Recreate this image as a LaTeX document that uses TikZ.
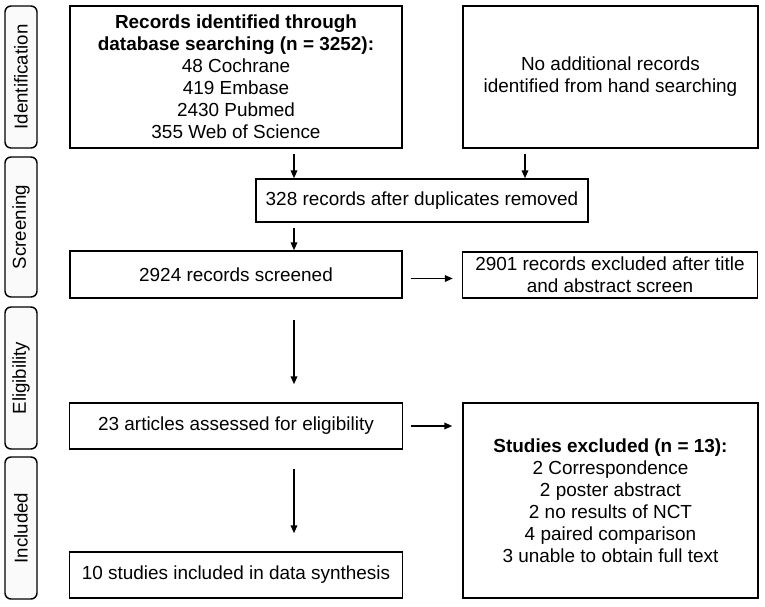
\documentclass[tikz,border=0pt]{standalone}
\usepackage{fontspec}
\setmainfont{Liberation Sans}
\usepackage{xcolor}
\usepackage{tikz}
\usetikzlibrary{arrows.meta}
\usetikzlibrary{positioning}

\begin{document}
\begin{tikzpicture}[x=0.75pt, y=-0.75pt,
    box/.style={draw, line width=1.1pt, fill=white, inner sep=0pt, align=center,
        font=\fontsize{14.2}{16.5}\selectfont},
    stage/.style={draw, line width=1.1pt, rounded corners=4.5pt, inner sep=0pt, fill=gray!4,
        rotate=90, minimum height=24pt, font=\fontsize{14}{16}\selectfont},
    arr/.style={-{Triangle[length=6pt, width=5pt]}, line width=1.1pt}]
    \useasboundingbox (0,0) rectangle (765,607);

    % Stage labels
    \node[stage, minimum width=106.5pt] (sId) at (21,77) {Identification};
    \node[stage, minimum width=105pt] (sSc) at (21,227) {Screening};
    \node[stage, minimum width=106.5pt] (sEl) at (21,378) {Eligibility};
    \node[stage, minimum width=106.5pt] (sIn) at (21,528) {Included};

    % Identification
    \node[box, minimum width=249pt, minimum height=106.5pt] (db) at (236,77)
        {\textbf{Records identified through}\\ \textbf{database searching (n = 3252):}\\
         48 Cochrane\\ 419 Embase\\ 2430 Pubmed\\ 355 Web of Science};
    \node[box, minimum width=221.25pt, minimum height=106.5pt] (hand) at (610.5,77)
        {No additional records\\ identified from hand searching};

    % Screening
    \node[box, minimum width=249pt, minimum height=32.25pt] (dup) at (422,200.5)
        {328 records after duplicates removed};
    \node[box, minimum width=249pt, minimum height=35.25pt] (screened) at (236,274.5)
        {2924 records screened};
    \node[box, minimum width=221.25pt, minimum height=34.5pt] (exclA) at (610,275)
        {2901 records excluded after title\\ and abstract screen};

    % Eligibility
    \node[box, minimum width=249.75pt, minimum height=34.5pt] (elig) at (236,426)
        {23 articles assessed for eligibility};
    \node[box, minimum width=221.25pt, minimum height=146.25pt] (exclB) at (610.5,500.5)
        {\textbf{Studies excluded (n = 13):}\\ 2 Correspondence\\ 2 poster abstract\\
         2 no results of NCT\\ 4 paired comparison\\ 3 unable to obtain full text};

    % Included
    \node[box, minimum width=249.75pt, minimum height=34.5pt] (incl) at (236,575)
        {10 studies included in data synthesis};

    % Arrows
    \coordinate (colL) at (294,0);
    \coordinate (colR) at (525,0);
    \draw[arr] ([yshift=-3.75pt]db.south -| colL) -- (dup.north -| colL);
    \draw[arr] ([yshift=-3.75pt]hand.south -| colR) -- (dup.north -| colR);
    \draw[arr] ([yshift=-3.75pt]dup.south -| colL) -- (screened.north -| colL);
    \draw[arr] ([yshift=-15.75pt]screened.south -| colL) -- ([yshift=13.5pt]elig.north -| colL);
    \draw[arr] ([yshift=-14.25pt]elig.south -| colL) -- ([yshift=13.5pt]incl.north -| colL);
    \draw[arr] ([xshift=6pt,yshift=-3pt]screened.east) -- ([xshift=-6.75pt,yshift=-3pt]screened.east -| exclA.west);
    \draw[arr] ([xshift=6pt]elig.east) -- ([xshift=-7.5pt]elig.east -| exclB.west);
\end{tikzpicture}
\end{document}
